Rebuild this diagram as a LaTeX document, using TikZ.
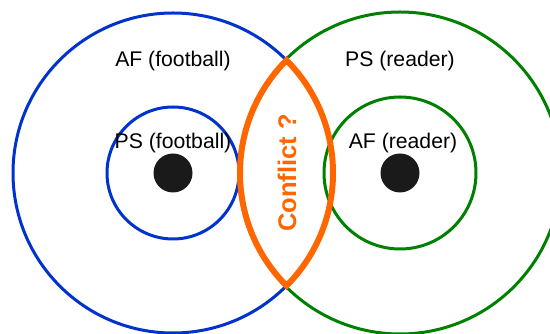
\documentclass[tikz,border=0pt]{standalone}
\usepackage{fontspec}
\setmainfont{Liberation Sans}
\definecolor{cblue}{HTML}{0033CC}
\definecolor{cgreen}{HTML}{008000}
\definecolor{corange}{HTML}{FF6600}
\definecolor{cdot}{HTML}{1A1A1A}
\begin{document}
\begin{tikzpicture}[x=1pt,y=1pt,
  bluering/.style={draw=cblue,line width=3pt},
  greenring/.style={draw=cgreen,line width=3pt},
  lensline/.style={draw=corange,line width=6pt,line join=miter},
  dotstyle/.style={fill=cdot},
  lbl/.style={font=\fontsize{21.2}{24}\selectfont,inner sep=0pt},
  conf/.style={font=\bfseries\fontsize{25.5}{28}\selectfont,text=corange,inner sep=0pt,rotate=90}]
\useasboundingbox (0,0) rectangle (550,334);
\clip (0,0) rectangle (550,334);
\coordinate (cl) at (173,161);
\coordinate (cr) at (400,161);
\coordinate (top) at (286.5,273.78);
\coordinate (bot) at (286.5,48.22);
% rings
\draw[bluering] (cl) circle[radius=160];
\draw[bluering] (cl) circle[radius=66];
\draw[greenring] (cr) circle[radius=161];
\draw[greenring] (cr) circle[radius=76];
% dots
\fill[dotstyle] (cl) circle[radius=19.5];
\fill[dotstyle] (cr) circle[radius=19.5];
% lens
\draw[lensline] (top) arc[start angle=135.18,end angle=224.82,radius=160]
  arc[start angle=-44.82,end angle=44.82,radius=160] -- cycle;
% labels
\node[lbl] (afl) at (173,273) {AF (football)};
\node[lbl] (psr) at (400,273) {PS (reader)};
\node[lbl] (psl) at (173,191) {PS (football)};
\node[lbl] (afr) at (403,191) {AF (reader)};
\node[conf] (cf) at (287,161) {Conflict ?};
\end{tikzpicture}
\end{document}
